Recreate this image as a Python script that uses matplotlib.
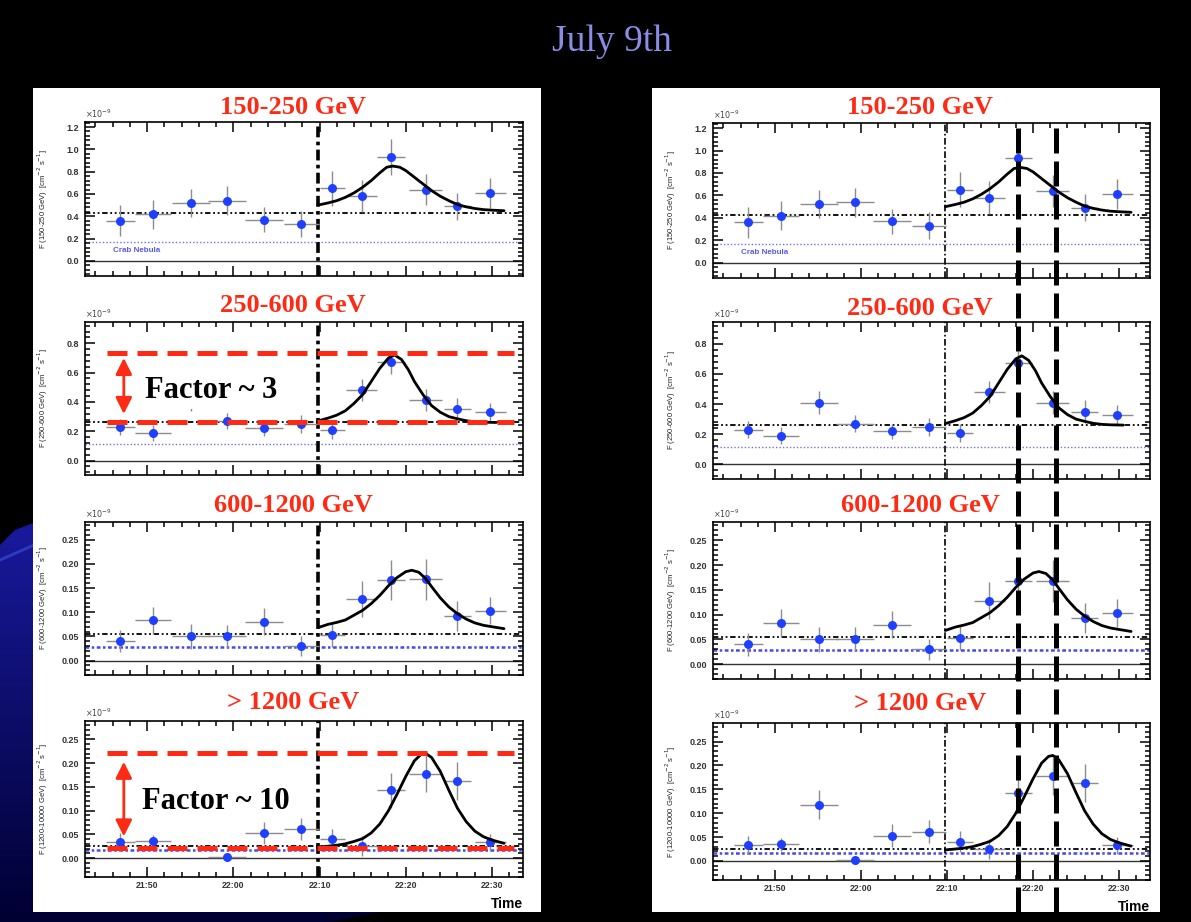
import numpy as np
import matplotlib.pyplot as plt
from matplotlib.patches import Rectangle, Polygon
from matplotlib.lines import Line2D
from matplotlib.ticker import MultipleLocator, FormatStrFormatter, FixedLocator

W, H = 1191, 922

# time axis: minutes after 21:00
t_bins = [46.9, 50.7, 55.1, 59.3, 63.6, 67.9, 71.5, 74.9, 78.3, 82.3, 86.0, 89.8]
t_half = [1.7, 2.1, 2.2, 2.2, 2.2, 2.0, 1.5, 1.8, 1.6, 1.9, 1.6, 1.8]
t_ticks = [50, 60, 70, 80, 90]
t_labels = ['21:50', '22:00', '22:10', '22:20', '22:30']
t_start = 69.8          # start of the flare fit
t_peaks = [78.3, 82.7]  # peak times marked on the right-hand column

bands = ['150-250 GeV', '250-600 GeV', '600-1200 GeV', '> 1200 GeV']
band_ylab = ['150-250 GeV', '250-600 GeV', '600-1200 GeV', '1200-10000 GeV']

# fluxes in units of 1e-9 cm^-2 s^-1
flux_150 = [0.36, 0.42, 0.52, 0.54, 0.37, 0.33, 0.65, 0.58, 0.93, 0.64, 0.49, 0.61]
err_150 = [0.14, 0.13, 0.125, 0.13, 0.11, 0.12, 0.155, 0.145, 0.16, 0.14, 0.12, 0.135]
flux_250 = [0.23, 0.19, 0.41, 0.27, 0.22, 0.25, 0.21, 0.48, 0.67, 0.41, 0.35, 0.33]
err_250 = [0.055, 0.055, 0.075, 0.055, 0.05, 0.06, 0.06, 0.075, 0.08, 0.075, 0.075, 0.065]
flux_600 = [0.040, 0.083, 0.050, 0.050, 0.080, 0.030, 0.053, 0.128, 0.167, 0.168, 0.093, 0.103]
err_600 = [0.023, 0.028, 0.026, 0.024, 0.028, 0.021, 0.025, 0.037, 0.042, 0.042, 0.031, 0.028]
flux_1200 = [0.033, 0.035, 0.118, 0.002, 0.053, 0.061, 0.040, 0.025, 0.143, 0.178, 0.163, 0.033]
err_1200 = [0.019, 0.014, 0.031, 0.008, 0.024, 0.024, 0.022, 0.021, 0.037, 0.039, 0.040, 0.018]

# flare fit curves
fit_t_150 = [69.8, 71.0, 72.0, 73.0, 74.0, 75.0, 76.0, 77.0, 77.8, 78.5, 79.3, 80.0,
             81.0, 82.0, 83.0, 84.0, 85.0, 86.0, 87.0, 88.0, 89.0, 90.0, 91.4]
fit_f_150 = [0.50, 0.52, 0.54, 0.57, 0.61, 0.66, 0.72, 0.79, 0.84, 0.85, 0.84, 0.81,
             0.75, 0.69, 0.63, 0.58, 0.54, 0.505, 0.485, 0.47, 0.46, 0.455, 0.45]
fit_t_250 = [69.8, 71.0, 72.0, 73.0, 74.0, 75.0, 76.0, 77.0, 78.0, 78.7, 79.5, 80.3,
             81.0, 82.0, 83.0, 84.0, 85.0, 86.0, 87.0, 88.0, 89.0, 90.5]
fit_f_250 = [0.27, 0.29, 0.31, 0.34, 0.39, 0.45, 0.54, 0.63, 0.70, 0.72, 0.69, 0.62,
             0.54, 0.45, 0.375, 0.33, 0.30, 0.285, 0.272, 0.265, 0.262, 0.26]
fit_t_600 = [69.8, 71.0, 72.0, 73.0, 74.0, 75.0, 76.0, 77.0, 78.0, 79.0, 80.0, 80.7,
             81.5, 82.3, 83.0, 84.0, 85.0, 86.0, 87.0, 88.0, 89.0, 90.0, 91.4]
fit_f_600 = [0.068, 0.075, 0.079, 0.084, 0.094, 0.104, 0.118, 0.135, 0.155, 0.172, 0.184, 0.187,
             0.183, 0.170, 0.153, 0.130, 0.111, 0.097, 0.086, 0.078, 0.073, 0.070, 0.066]
fit_t_1200 = [69.8, 71.0, 72.0, 73.0, 74.0, 75.0, 76.0, 77.0, 78.0, 79.0, 80.0, 81.0,
              81.8, 82.3, 83.0, 84.0, 85.0, 86.0, 87.0, 88.0, 89.0, 90.0, 91.4]
fit_f_1200 = [0.023, 0.025, 0.027, 0.030, 0.035, 0.041, 0.053, 0.072, 0.100, 0.135, 0.172, 0.205,
              0.219, 0.221, 0.212, 0.183, 0.143, 0.105, 0.077, 0.057, 0.045, 0.038, 0.031]

baseline = [0.43, 0.26, 0.055, 0.025]
crab = [0.17, 0.115, 0.029, 0.017]
red_levels = {1: [0.26, 0.735], 3: [0.021, 0.222]}
arrows = {1: (0.318, 0.700), 3: (0.0455, 0.203)}
factor_txt = {1: ('Factor ~ 3', 49.8, 0.48), 3: ('Factor ~ 10', 49.4, 0.119)}

fluxes = [flux_150, flux_250, flux_600, flux_1200]
errs = [err_150, err_250, err_600, err_1200]
fits = [(fit_t_150, fit_f_150), (fit_t_250, fit_f_250),
        (fit_t_600, fit_f_600), (fit_t_1200, fit_f_1200)]
ylims = [(-0.135, 1.245), (-0.098, 0.945), (-0.03, 0.287), (-0.04, 0.289)]
ymaj = [0.2, 0.2, 0.05, 0.05]
ymin = [0.04, 0.04, 0.01, 0.01]
yfmt = ['%.1f', '%.1f', '%.2f', '%.2f']

RED = '#ff2a14'
BLUE = '#1f3fff'
SERIF = ['Liberation Serif', 'DejaVu Serif']
SANS = ['Liberation Sans', 'DejaVu Sans']

# panel geometry in pixels
cols = {
    'L': dict(x0=85, x1=523, tops=[122, 322, 522, 721], bots=[276, 475, 675, 877],
              tx=293, ty=[107, 305, 505, 702]),
    'R': dict(x0=713, x1=1150, tops=[123, 322, 522, 723], bots=[278, 479, 679, 880],
              tx=920, ty=[108, 308, 505, 703]),
}

fig = plt.figure(figsize=(W / 100, H / 100), dpi=100, facecolor='black')

# slide background: black with a blue swoosh in the lower left, two white boxes
bg = fig.add_axes([0, 0, 1, 1], zorder=-10)
bg.set_xlim(0, W)
bg.set_ylim(H, 0)
bg.axis('off')
grad = np.linspace(0, 1, 200)[:, None]
col_top = np.array([0.10, 0.10, 0.62])
col_bot = np.array([0.0, 0.0, 0.20])
img = (col_top[None, None, :] * (1 - grad[..., None]) + col_bot[None, None, :] * grad[..., None])
swoosh = Polygon([(0, 545), (15, 530), (36, 522), (36, 912), (380, 912), (330, 922), (0, 922)],
                 closed=True, facecolor='none', edgecolor='none')
bg.add_patch(swoosh)
im = bg.imshow(img, extent=(0, W, H, 520), aspect='auto', zorder=1)
im.set_clip_path(swoosh)
bg.plot([0, 34], [560, 545], color='#3a4ad8', lw=2, alpha=0.7, zorder=2)
bg.add_patch(Rectangle((33, 88), 508, 824, facecolor='white', edgecolor='none', zorder=3))
bg.add_patch(Rectangle((652, 88), 508, 824, facecolor='white', edgecolor='none', zorder=3))

fig.text(612 / W, 1 - 42 / H, 'July 9th', color='#8c8ce6', fontsize=27,
         family=SERIF, ha='center', va='center')


def draw_panel(side, i):
    g = cols[side]
    left = g['x0'] / W
    bottom = 1 - g['bots'][i] / H
    ax = fig.add_axes([left, bottom, (g['x1'] - g['x0']) / W,
                       (g['bots'][i] - g['tops'][i]) / H])
    ax.set_xlim(42.8, 93.6)
    ax.set_ylim(*ylims[i])

    ax.axhline(0.0, color='#333333', lw=1.0, zorder=1)
    ax.axhline(crab[i], color='#4848f0' if i >= 2 else '#7070f0',
               lw=1.8 if i >= 2 else 1.0,
               ls=(0, (1.5, 1, 1, 1)) if i >= 2 else (0, (1, 1.5)), zorder=1)
    ax.axhline(baseline[i], color='black', lw=1.3,
               ls=(0, (3, 1.5, 1, 1.5, 1, 1.5)), zorder=1)
    if side == 'L':
        ax.axvline(t_start, color='black', lw=2.6, ls=(0, (3, 1.2, 1, 1.2)), zorder=2)
    else:
        ax.axvline(t_start, color='black', lw=1.2, ls=(0, (4, 1.5, 1, 1.5)), zorder=2)

    ax.errorbar(t_bins, fluxes[i], xerr=t_half, yerr=errs[i], fmt='o', color=BLUE,
                ms=6.5, mec='none', ecolor='#8c8c8c', elinewidth=1, capsize=0, zorder=3)
    ft, ff = fits[i]
    ax.plot(ft, ff, color='black', lw=2, zorder=4, solid_capstyle='round')

    if i == 0:
        ax.text(46.0, 0.09, 'Crab Nebula', color='#5a5ae8', fontsize=5.8,
                fontweight='bold', family=SANS, va='center', ha='left')

    if side == 'L' and i in red_levels:
        for lev in red_levels[i]:
            ax.hlines(lev, 45.3, 92.6, color=RED, lw=3.6, ls=(0, (4, 2)), zorder=5)
        y0, y1 = arrows[i]
        ax.annotate('', xy=(47.3, y1), xytext=(47.3, y0),
                    arrowprops=dict(arrowstyle='<|-|>,head_length=0.7,head_width=0.35',
                                    color=RED, lw=2, mutation_scale=14,
                                    shrinkA=0, shrinkB=0), zorder=6)
        txt, tx, ty = factor_txt[i]
        ax.text(tx, ty, txt, fontsize=22, fontweight='bold', family=SERIF,
                ha='left', va='center', zorder=6,
                bbox=dict(facecolor='white', edgecolor='none', pad=3))

    # ROOT-like frame: inward ticks on all sides
    for sp in ax.spines.values():
        sp.set_linewidth(1.2)
    ax.xaxis.set_major_locator(FixedLocator(t_ticks))
    ax.xaxis.set_minor_locator(MultipleLocator(2))
    ax.yaxis.set_major_locator(MultipleLocator(ymaj[i]))
    ax.yaxis.set_minor_locator(MultipleLocator(ymin[i]))
    ax.yaxis.set_major_formatter(FormatStrFormatter(yfmt[i]))
    ax.tick_params(which='both', direction='in', top=True, right=True, width=1.1)
    ax.tick_params(which='major', length=7)
    ax.tick_params(which='minor', length=3.5)
    ax.tick_params(axis='y', pad=4, labelsize=6.5, labelcolor='#333333')
    ax.tick_params(axis='x', pad=3, labelsize=6.3, labelcolor='#333333')
    for lab in ax.get_yticklabels():
        lab.set_fontweight('bold')
        lab.set_family(SANS)
    if i == 3:
        ax.set_xticklabels(t_labels, fontweight='bold', family=SANS)
        ax.text(1.0, -0.13, 'Time', transform=ax.transAxes, ha='right', va='top',
                fontsize=10, fontweight='bold', family=SANS)
    else:
        ax.set_xticklabels([])

    ax.set_ylabel('F (' + band_ylab[i] + ')  [cm$^{-2}$ s$^{-1}$]', fontsize=5.5,
                  family=SANS, color='#222222')
    ax.yaxis.set_label_coords(-0.08, 0.5)
    ax.text(0.0, 1.01, r'$\times10^{-9}$', transform=ax.transAxes, fontsize=5.8,
            color='#444444', ha='left', va='bottom')

    fig.text(g['tx'] / W, 1 - g['ty'][i] / H, bands[i], color=RED, fontsize=19,
             fontweight='bold', family=SERIF, ha='center', va='center')
    return ax


axes_L = [draw_panel('L', i) for i in range(4)]
axes_R = [draw_panel('R', i) for i in range(4)]

# peak-time markers running down the whole right-hand column
inv = fig.transFigure.inverted()
for tp in t_peaks:
    xd = axes_R[0].transData.transform((tp, 0.0))[0]
    xf = inv.transform((xd, 0.0))[0]
    fig.add_artist(Line2D([xf, xf], [1 - 128 / H, 0.0], transform=fig.transFigure,
                          color='black', lw=3.6, ls=(0, (5, 1.6)), zorder=10))

fig.savefig('out.png', dpi=100, facecolor='black')
